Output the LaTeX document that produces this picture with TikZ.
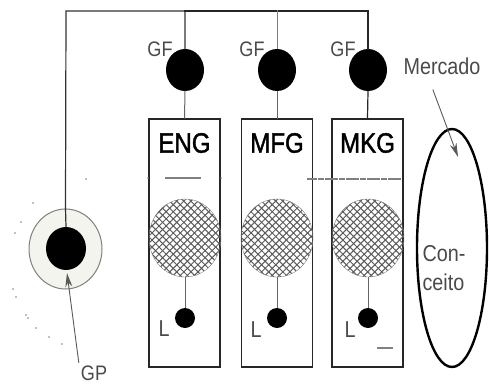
\documentclass[tikz,border=0pt]{standalone}
\usepackage{fontspec}
\setsansfont{Liberation Sans}
\newfontfamily\condsans[FakeStretch=0.86]{Liberation Sans}
\newfontfamily\condheavy[FakeStretch=0.86,FakeBold=1.4]{Liberation Sans}
\usepackage{tikz}
\usetikzlibrary{arrows.meta,shapes.geometric,patterns.meta}
\definecolor{ringFill}{HTML}{F4F4EE}
\definecolor{labelGray}{HTML}{4A4A4A}
\tikzset{
     gfNode/.style =
        { ellipse
        , fill=black
        , minimum width=38pt
        , minimum height=42pt
        , inner sep=0pt
        }
   , deptNode/.style =
        { rectangle
        , draw=black!85
        , line width=1.8pt
        , minimum width=71pt
        , minimum height=248pt
        , inner sep=0pt
        }
   , hatchNode/.style =
        { ellipse
        , draw=gray
        , minimum width=72pt
        , minimum height=78pt
        , inner sep=0pt
        , pattern color=black!65
        , preaction={pattern={Lines[angle=45,distance=5pt,line width=1pt]}}
        , pattern={Lines[angle=-45,distance=5pt,line width=1pt]}
        }
   , lNode/.style =
        { circle
        , fill=black
        , minimum size=20pt
        , inner sep=0pt
        }
   , deptText/.style = {font=\condheavy\fontsize{28}{30}\selectfont}
   , smallText/.style = {font=\condsans\fontsize{21}{24}\selectfont, text=labelGray}
   , pointer/.style = {-{Stealth[length=14pt,width=7pt]}, gray!70!black, line width=0.9pt}
}

\begin{document}
\begin{tikzpicture}
            [ x=1pt
            , y=-1pt
            , line cap=rect
            ]
            \useasboundingbox (0,0) rectangle (489,385);

            % group of three departments
            \node[deptNode] (eng) at (184.5,243) {};
            \node[deptNode] (mfg) at (277,243) {};
            \node[deptNode] (mkg) at (367.5,243) {};
            \node[deptText] at (184.5,143) {ENG};
            \node[deptText] at (277,143) {MFG};
            \node[deptText] at (367.5,143) {MKG};

            \node[gfNode] (gfE) at (185,70) {};
            \node[gfNode] (gfM) at (277,70) {};
            \node[gfNode] (gfK) at (368,70) {};
            \node[smallText] at (160,49) {GF};
            \node[smallText] at (252,49) {GF};
            \node[smallText] at (343,49) {GF};

            \node[hatchNode] (hE) at (185,238) {};
            \node[hatchNode] (hM) at (277,238) {};
            \node[hatchNode] (hK) at (368,238) {};

            \node[lNode] (lE) at (185,318) {};
            \node[lNode] (lM) at (277,318) {};
            \node[lNode] (lK) at (368,318) {};
            \node[smallText, font=\condsans\fontsize{23}{24}\selectfont] at (164,329) {L};
            \node[smallText, font=\condsans\fontsize{23}{24}\selectfont] at (256,330) {L};
            \node[smallText, font=\condsans\fontsize{23}{24}\selectfont] at (350,330) {L};

            % GP on the left
            \node[ellipse, draw=gray, fill=ringFill, line width=1pt,
                  minimum width=73pt, minimum height=80pt, inner sep=0pt] (gpOut) at (65.5,249) {};
            \coordinate (cornerL) at (66,11);
            \coordinate (cornerR) at (368,11);
            \draw[black!80, line width=1.2pt] (gpOut.center |- gpOut.north) -- (cornerL) -| (gfE.north);
            \node[ellipse, fill=black, minimum width=40pt, minimum height=43pt, inner sep=0pt] (gpIn) at (66,248.5) {};
            \draw[black!80, line width=1.2pt] (gpOut.north) -- (gpIn.north);

            % top bar and links
            \draw[black!85, line width=1.8pt] (gfE.north |- cornerL) -- (cornerR) -- (gfK.north);
            \draw[gray, line width=1pt] (gfM.north |- cornerL) -- (gfM.north);
            \draw[gray!80!black, line width=1pt] (gfE.south) -- (eng.north);
            \draw[gray!80!black, line width=1pt] (gfM.south) -- (mfg.north);
            \draw[black!85, line width=1.2pt] (gfK.south) -- (mkg.north);
            \foreach \n in {E,M,K}
                \draw[gray!80!black, line width=1pt] (h\n.south) -- (l\n.north);

            % market
            \node[ellipse, draw=black, line width=2.4pt,
                  minimum width=70pt, minimum height=238pt, inner sep=0pt] (mercadoSet) at (452,248) {};
            \node[smallText, font=\condsans\fontsize{23}{24}\selectfont] (mercado) at (442,66) {Mercado};
            \node[smallText, align=left, font=\condsans\fontsize{23}{29}\selectfont] (conceito) at (444,268) {Con-\\ceito};
            \coordinate (mktTip) at (458,157);
            \draw[pointer] ([xshift=-9pt,yshift=-12pt]mercado.south) -- (mktTip);

            \node[smallText, inner sep=1pt] (gpLabel) at (94,373) {GP};
            \coordinate (gpTip) at (67,273);
            \draw[pointer] ([xshift=-1pt,yshift=2pt]gpLabel.north west) -- (gpTip);

            % faint leftovers
            \draw[gray, line width=1.2pt, dash pattern=on 4pt off 1.5pt] (166,178) -- (200,178);
            \draw[gray, line width=1.2pt, dash pattern=on 5pt off 2pt on 1.5pt off 2pt] (308,179) -- (402,179);
            \draw[gray, line width=1.2pt] (378,348) -- (392,348);
            \foreach \p in {(33,203),(21,222),(15,233),(13,289),(16,297),(26,315),(28,318),(36,328),(49,337),(62,344),(86,179),(148,178),(221,178)}
                \fill[gray] \p circle (0.9pt);
\end{tikzpicture}
\end{document}
